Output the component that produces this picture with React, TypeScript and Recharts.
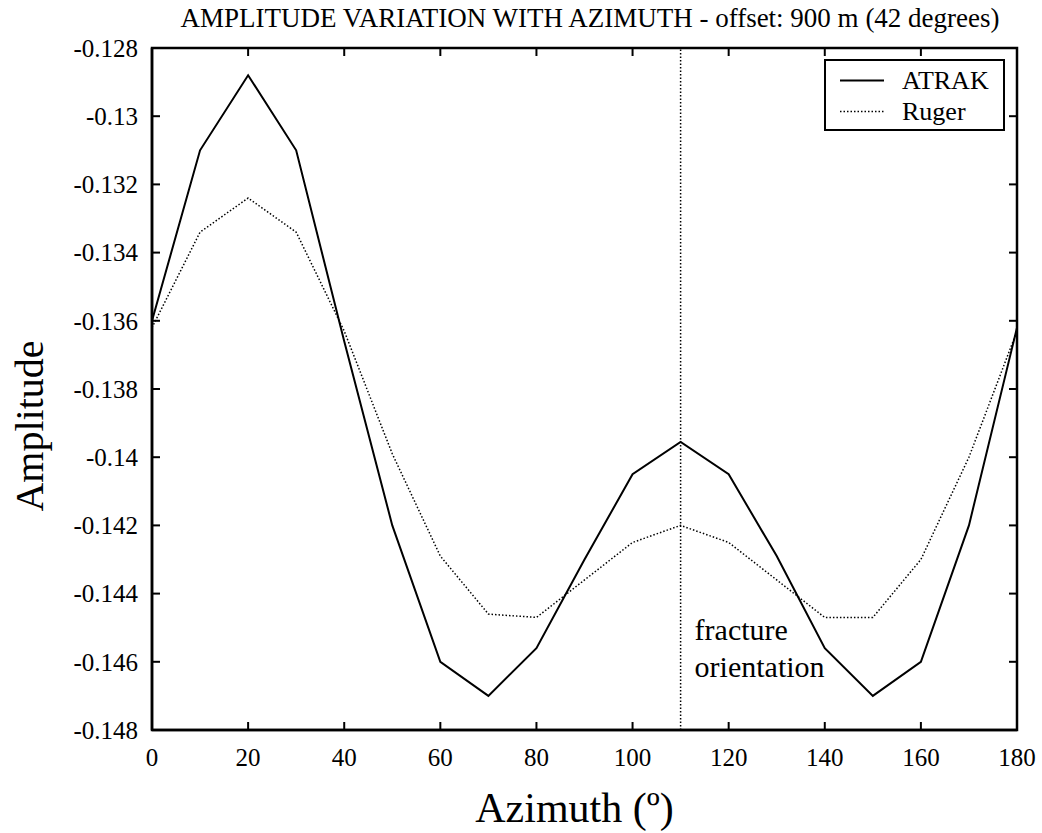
import React from 'react';
import { LineChart, Line, XAxis, YAxis, ReferenceLine, ReferenceArea, Legend } from 'recharts';

const azimuth = [0, 10, 20, 30, 40, 50, 60, 70, 80, 90, 100, 110, 120, 130, 140, 150, 160, 170, 180];
const atrak = [-0.1360, -0.1310, -0.1288, -0.1310, -0.1366, -0.1420, -0.1460, -0.1470, -0.1456, -0.1430, -0.1405, -0.13955, -0.1405, -0.1429, -0.1456, -0.1470, -0.1460, -0.1420, -0.1362];
const ruger = [-0.1362, -0.1334, -0.1324, -0.1334, -0.1363, -0.1399, -0.1429, -0.1446, -0.1447, -0.1436, -0.1425, -0.1420, -0.1425, -0.1436, -0.1447, -0.1447, -0.1430, -0.1400, -0.1363];
const xTicks = [0, 20, 40, 60, 80, 100, 120, 140, 160, 180];
const yTicks = [-0.148, -0.146, -0.144, -0.142, -0.14, -0.138, -0.136, -0.134, -0.132, -0.13, -0.128];
const xDomain = [0, 180];
const yDomain = [-0.148, -0.128];
const fractureAzimuth = 110;

const data = azimuth.map((a, i) => ({ azimuth: a, ATRAK: atrak[i], Ruger: ruger[i] }));

const FONT = '"Liberation Serif", "Times New Roman", Times, serif';
const TICK_LEN = 8;
const tickStyle = { fontFamily: FONT, fontSize: 25, fill: '#000' };

const fmt = (v: number) => String(Number(v.toFixed(3)));

// inward tick marks on both ends of a reference line spanning the plot
const XTickShape = (p: any) => (
  <g>
    <line x1={p.x1} x2={p.x1} y1={p.y1} y2={p.y1 - TICK_LEN} stroke="#000" strokeWidth={2} />
    <line x1={p.x2} x2={p.x2} y1={p.y2} y2={p.y2 + TICK_LEN} stroke="#000" strokeWidth={2} />
  </g>
);
const YTickShape = (p: any) => (
  <g>
    <line x1={p.x1} x2={p.x1 + TICK_LEN} y1={p.y1} y2={p.y1} stroke="#000" strokeWidth={2} />
    <line x1={p.x2} x2={p.x2 - TICK_LEN} y1={p.y2} y2={p.y2} stroke="#000" strokeWidth={2} />
  </g>
);

const LegendBox = (props: any) => {
  const payload = props.payload || [];
  return (
    <div style={{ width: 181, height: 72, border: '2px solid #000', boxSizing: 'border-box', background: '#fff', position: 'relative' }}>
      {payload.map((p: any, i: number) => (
        <div key={p.value} style={{ position: 'absolute', left: 0, top: 4 + i * 31, height: 31, width: '100%', display: 'flex', alignItems: 'center' }}>
          <svg width={76} height={31} style={{ display: 'block' }}>
            <line x1={14} x2={58} y1={15.5} y2={15.5} stroke="#000"
              strokeWidth={p.value === 'ATRAK' ? 2 : 1.5}
              strokeDasharray={p.value === 'ATRAK' ? undefined : '1.5 2'} />
          </svg>
          <span style={{ fontFamily: FONT, fontSize: 26, color: '#000', lineHeight: '31px' }}>{p.value}</span>
        </div>
      ))}
    </div>
  );
};

const FractureLabel = (props: any) => {
  const vb = props.viewBox || {};
  const x = vb.x + 14;
  const bottom = vb.y + vb.height;
  return (
    <g>
      <text x={x} y={bottom - 90} fontFamily={FONT} fontSize={30} fill="#000">fracture</text>
      <text x={x} y={bottom - 53} fontFamily={FONT} fontSize={30} fill="#000">orientation</text>
    </g>
  );
};

const YLabel = (props: any) => {
  const vb = props.viewBox || {};
  const cx = vb.x + 43;
  const cy = vb.y + vb.height / 2 + 37;
  return (
    <text x={cx} y={cy} transform={`rotate(-90, ${cx}, ${cy})`} textAnchor="middle" fontFamily={FONT} fontSize={40} fill="#000">Amplitude</text>
  );
};

const XLabel = (props: any) => {
  const vb = props.viewBox || {};
  const cx = vb.x + vb.width / 2 - 10;
  return (
    <text x={cx} y={vb.y + 92} textAnchor="middle" fontFamily={FONT} fontSize={42} fill="#000">Azimuth (º)</text>
  );
};

export default function App() {
  return (
    <div style={{ position: 'absolute', left: 0, top: 0, width: 1042, height: 833, background: '#fff', fontFamily: FONT }}>
      <div style={{ position: 'absolute', left: 0, width: 1180, top: 5, textAlign: 'center', fontFamily: FONT, fontSize: 27, lineHeight: '26px', color: '#000', whiteSpace: 'nowrap' }}>
        AMPLITUDE VARIATION WITH AZIMUTH - offset: 900 m (42 degrees)
      </div>
      <LineChart width={1042} height={833} data={data} margin={{ top: 48, right: 25, bottom: 0, left: 0 }} style={{ fontFamily: FONT }}>
        <XAxis dataKey="azimuth" type="number" domain={xDomain} ticks={xTicks} interval={0}
          height={103} axisLine={{ stroke: '#000', strokeWidth: 2.5 }} tickLine={false} tickSize={0} tickMargin={18}
          tick={tickStyle} label={<XLabel />} />
        <YAxis type="number" domain={yDomain} ticks={yTicks} interval={0} width={152}
          axisLine={{ stroke: '#000', strokeWidth: 2.5 }} tickLine={false} tickSize={0} tickMargin={14} tick={tickStyle}
          tickFormatter={fmt} label={<YLabel />} allowDataOverflow />
        <ReferenceArea x1={xDomain[0]} x2={xDomain[1]} y1={yDomain[0]} y2={yDomain[1]} fill="none" fillOpacity={0}
          stroke="#000" strokeWidth={2.5} strokeOpacity={1} ifOverflow="visible" />
        {xTicks.map((t) => (
          <ReferenceLine key={`xt${t}`} x={t} stroke="#000" shape={XTickShape} ifOverflow="visible" />
        ))}
        {yTicks.map((t) => (
          <ReferenceLine key={`yt${t}`} y={t} stroke="#000" shape={YTickShape} ifOverflow="visible" />
        ))}
        <ReferenceLine x={fractureAzimuth} stroke="#000" strokeWidth={1.5} strokeDasharray="1.5 2" label={<FractureLabel />} />
        <Legend layout="horizontal" verticalAlign="middle" align="center" content={<LegendBox />}
          wrapperStyle={{ position: 'absolute', left: 824, top: 59, width: 181, height: 72 }} />
        <Line type="linear" dataKey="ATRAK" stroke="#000" strokeWidth={2} dot={false} isAnimationActive={false} />
        <Line type="linear" dataKey="Ruger" stroke="#000" strokeWidth={1.5} strokeDasharray="1.5 2" dot={false} isAnimationActive={false} />
      </LineChart>
    </div>
  );
}
